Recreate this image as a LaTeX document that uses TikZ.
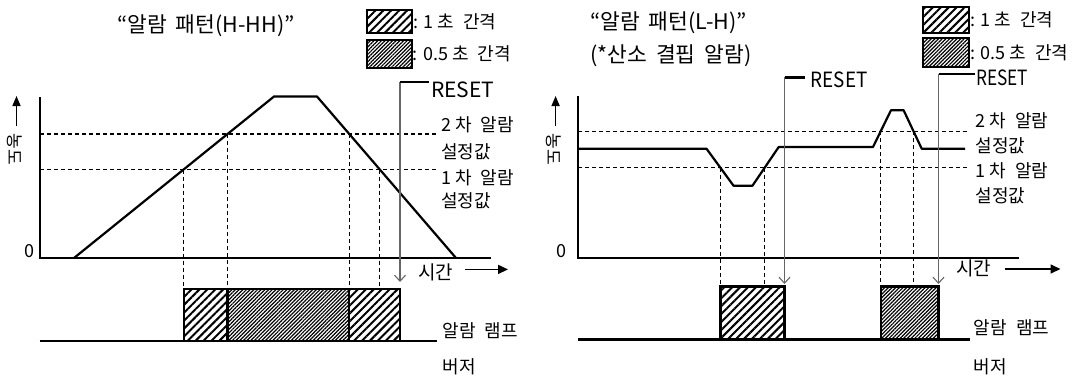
\documentclass[tikz,border=0pt]{standalone}
\usepackage{fontspec}
\setmainfont{Noto Sans CJK KR}
\usetikzlibrary{arrows.meta,patterns.meta}
\newcommand{\wsp}{\hspace{9pt}}
\begin{document}
\begin{tikzpicture}[x=1pt,y=-1pt,
  axis/.style={line width=2.2pt},
  sig/.style={line width=2.2pt, line join=round},
  thr/.style={line width=1.1pt, dash pattern=on 4pt off 3pt},
  rst/.style={line width=1.1pt, draw=black!60, -{Straight Barb[length=6pt,width=11pt,line width=1.1pt]}},
  rsttop/.style={line width=2.2pt},
  sparse/.style={draw, line width=2.2pt, pattern={Lines[angle=45,distance=5.6pt,line width=2pt]}},
  dense/.style={draw, line width=2.2pt, pattern={Lines[angle=45,distance=2.6pt,line width=1.2pt]}},
  lbl/.style={font=\fontsize{18}{20}\selectfont, anchor=west, inner sep=0pt},
  ttl/.style={font=\fontsize{21.5}{24}\selectfont, anchor=west, inner sep=0pt},
  rsttxt/.style={font=\fontsize{21}{24}\selectfont, anchor=west, inner sep=0pt},
  uparr/.style={line width=1.6pt, -{Triangle[length=10pt,width=8pt]}},
  tarr/.style={line width=1.6pt, -{Triangle[length=10pt,width=9pt]}},
]
\useasboundingbox (0,0) rectangle (1084,378);

% ================= LEFT PANEL =================
\node[ttl] (tL) at (117,26) {“알람\wsp 패턴(H-HH)”};
% legend
\node[sparse, minimum width=45pt, minimum height=23pt, inner sep=0pt] (lgLa) at (389.5,21.5) {};
\node[dense, minimum width=45pt, minimum height=28pt, inner sep=0pt] (lgLb) at (389.5,54) {};
\node[lbl] (lgLat) at (lgLa.east) {: 1 초\wsp 간격};
\node[lbl] (lgLbt) at (lgLb.east) {: 0.5 초\wsp 간격};

% axes
\coordinate (LO) at (40,258);
\coordinate (LYt) at (40,97);
\coordinate (LXe) at (491,258);
\draw[axis] (LYt) -- (LO) -- (LXe);
\node[font=\fontsize{18}{20}\selectfont, inner sep=0pt] (L0) at (29,251) {0};
\coordinate (LUa) at (16.5,126);
\coordinate (LUb) at (16.5,96);
\draw[uparr] (LUa) -- (LUb);
\node[font=\fontsize{17}{19}\selectfont, rotate=-90, inner sep=0pt] (Lconc) at (14.5,149) {농도};

% thresholds
\coordinate (LT2a) at (40,134); \coordinate (LT2b) at (437,134);
\coordinate (LT1a) at (40,169.5); \coordinate (LT1b) at (437,169.5);
\draw[thr] (LT2a) -- (LT2b);
\draw[thr] (LT1a) -- (LT1b);

% signal
\coordinate (Ls0) at (74,258);
\coordinate (Ls1) at (274,96.5);
\coordinate (Ls2) at (317,96.5);
\coordinate (Ls3) at (456,258);
\draw[sig] (Ls0) -- (Ls1) -- (Ls2) -- (Ls3);

% intersections and drops
\coordinate (Li1) at (183.6,169.5); \coordinate (Lb1) at (183.6,288.6);
\coordinate (Li2) at (227.5,134);   \coordinate (Lb2) at (227.5,288.6);
\coordinate (Li3) at (349.3,134);   \coordinate (Lb3) at (349.3,288.6);
\coordinate (Li4) at (379.8,169.5); \coordinate (Lb4) at (379.8,288.6);
\draw[thr] (Li1) -- (Lb1);
\draw[thr] (Li2) -- (Lb2);
\draw[thr] (Li3) -- (Lb3);
\draw[thr] (Li4) -- (Lb4);

% alarm lamp boxes
\draw[sparse] (183.6,288.6) rectangle (227.5,341);
\draw[dense] (227.5,288.6) rectangle (349.3,341);
\draw[sparse] (349.3,288.6) rectangle (400,341);
\coordinate (Lbl0) at (39.6,341); \coordinate (Lbl1) at (436.6,341);
\draw[axis] (Lbl0) -- (Lbl1);

% reset
\coordinate (LRtop) at (400,81.6);
\coordinate (LRh) at (429,81.6);
\coordinate (LRtip) at (400,282);
\draw[rst] (LRtop) -- (LRtip);
\draw[rsttop] (LRtop) -- (LRh);
\node[rsttxt] (LRt) at (431,90) {RESET};

% right labels
\node[lbl] (L2a) at (441,125) {2 차\wsp 알람};
\node[lbl] (L2b) at (441,152) {설정값};
\node[lbl] (L1a) at (441,177.5) {1 차\wsp 알람};
\node[lbl] (L1b) at (441,200.5) {설정값};
\node[lbl, font=\fontsize{19}{21}\selectfont] (Lt) at (418,272) {시간};
\coordinate (LTa) at (465,269.4); \coordinate (LTb) at (508,269.4);
\draw[tarr] (LTa) -- (LTb);
\node[lbl] (Llamp) at (442.5,331) {알람\wsp 램프};
\node[lbl] (Lbuz) at (442.5,366.5) {버저};

% ================= RIGHT PANEL =================
\node[ttl] (tR) at (590,22.5) {“알람\wsp 패턴(L-H)”};
\node[ttl] (tR2) at (590,55.5) {(*산소\wsp 결핍\wsp 알람)};
\node[sparse, minimum width=45.7pt, minimum height=26.6pt, inner sep=0pt] (lgRa) at (946.2,20) {};
\node[dense, minimum width=45.7pt, minimum height=28.4pt, inner sep=0pt] (lgRb) at (946.2,52.5) {};
\node[lbl] (lgRat) at (lgRa.east) {: 1 초\wsp 간격};
\node[lbl] (lgRbt) at (lgRb.east) {: 0.5 초\wsp 간격};

\coordinate (RO) at (578.2,257.7);
\coordinate (RYt) at (578.2,96.3);
\coordinate (RXe) at (1019,257.7);
\draw[axis] (RYt) -- (RO) -- (RXe);
\node[font=\fontsize{18}{20}\selectfont, inner sep=0pt] (R0) at (561,251) {0};
\coordinate (RUa) at (555.6,126);
\coordinate (RUb) at (555.6,96);
\draw[uparr] (RUa) -- (RUb);
\node[font=\fontsize{17}{19}\selectfont, rotate=-90, inner sep=0pt] (Rconc) at (554,149) {농도};

\coordinate (RT2a) at (578.2,131.4); \coordinate (RT2b) at (970,131.4);
\coordinate (RT1a) at (578.2,167.8); \coordinate (RT1b) at (970,167.8);
\draw[thr] (RT2a) -- (RT2b);
\draw[thr] (RT1a) -- (RT1b);

\coordinate (Rs0) at (578.2,148.7);
\coordinate (Rs1) at (706.5,148.7);
\coordinate (Rs2) at (733.6,185.8);
\coordinate (Rs3) at (752.4,185.8);
\coordinate (Rs4) at (778.7,147);
\coordinate (Rs5) at (873,147);
\coordinate (Rs6) at (891,110.2);
\coordinate (Rs7) at (903.6,110.2);
\coordinate (Rs8) at (921.7,148.7);
\coordinate (Rs9) at (965,148.7);
\draw[sig] (Rs0) -- (Rs1) -- (Rs2) -- (Rs3) -- (Rs4) -- (Rs5) -- (Rs6) -- (Rs7) -- (Rs8) -- (Rs9);

\coordinate (Ri1) at (720.4,167.8); \coordinate (Rb1) at (720.4,286.5);
\coordinate (Ri2) at (764.6,167.8); \coordinate (Rb2) at (764.6,286.5);
\coordinate (Ri3) at (880.6,131.4); \coordinate (Rb3) at (880.6,286.5);
\coordinate (Ri4) at (913.6,131.4); \coordinate (Rb4) at (913.6,286.5);
\draw[thr] (Ri1) -- (Rb1);
\draw[thr] (Ri2) -- (Rb2);
\draw[thr] (Ri3) -- (Rb3);
\draw[thr] (Ri4) -- (Rb4);

\draw[sparse] (720.4,286.5) rectangle (784.5,339.5);
\draw[dense] (880.6,286.5) rectangle (938.5,339.5);
\coordinate (Rbl0) at (578,339.5); \coordinate (Rbl1) at (970,339.5);
\draw[axis] (Rbl0) -- (Rbl1);

\coordinate (RR1top) at (784.5,77.4);
\coordinate (RR1h) at (805.4,77.4);
\coordinate (RR1tip) at (784.5,284);
\draw[rst] (RR1top) -- (RR1tip);
\draw[rsttop] (RR1top) -- (RR1h);
\node[rsttxt, xscale=0.9] (RR1t) at (810.6,79.5) {RESET};

\coordinate (RR2top) at (938.5,74);
\coordinate (RR2h) at (975,74);
\coordinate (RR2tip) at (938.5,284);
\draw[rst] (RR2top) -- (RR2tip);
\draw[rsttop] (RR2top) -- (RR2h);
\node[rsttxt, xscale=0.82] (RR2t) at (976,78) {RESET};

\node[lbl] (R2a) at (975.5,121) {2 차\wsp 알람};
\node[lbl] (R2b) at (975.5,146) {설정값};
\node[lbl] (R1a) at (975.5,171) {1 차\wsp 알람};
\node[lbl] (R1b) at (975.5,195.5) {설정값};
\node[lbl, font=\fontsize{19}{21}\selectfont] (Rt) at (956,268.5) {시간};
\coordinate (RTa) at (1005,269); \coordinate (RTb) at (1060.5,269);
\draw[tarr] (RTa) -- (RTb);
\node[lbl] (Rlamp) at (973.7,328) {알람\wsp 램프};
\node[lbl] (Rbuz) at (973.7,366.5) {버저};
\end{tikzpicture}
\end{document}
